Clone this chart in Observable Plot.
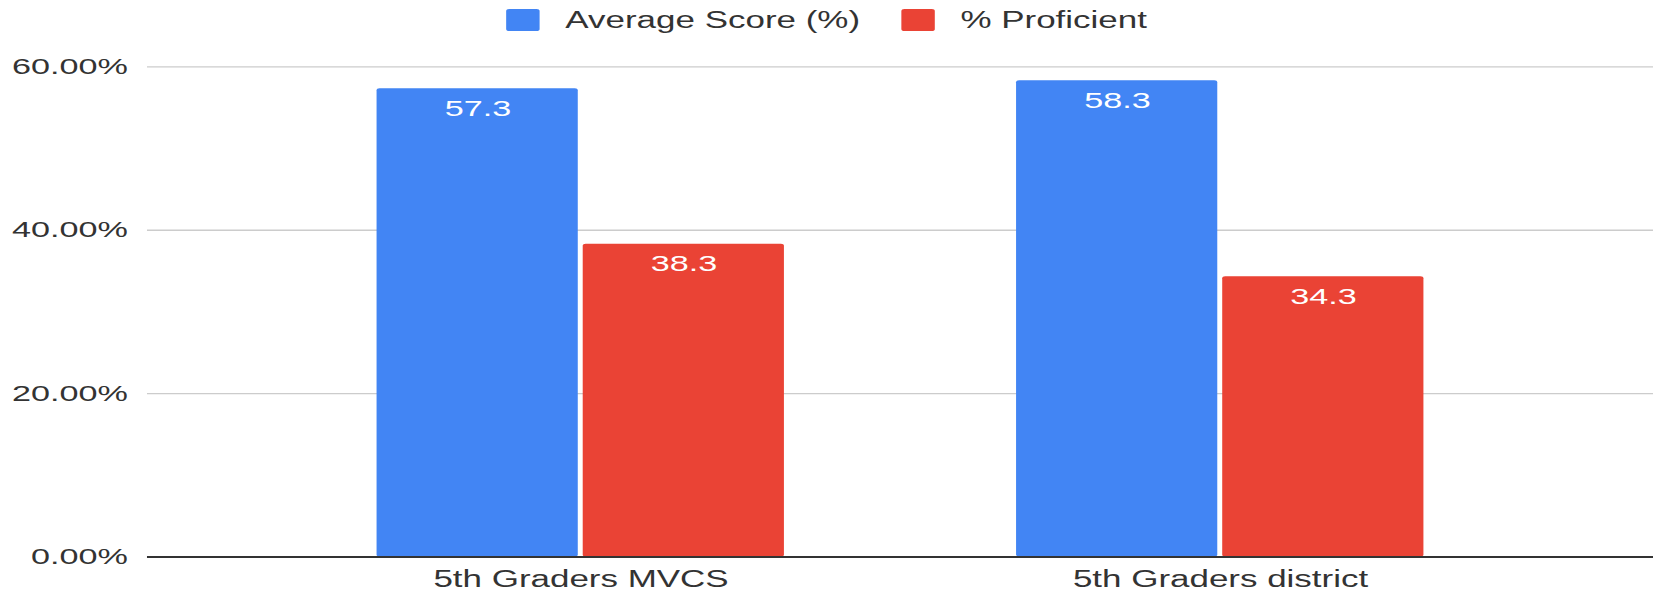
<!DOCTYPE html>
<html>
<head>
<meta charset="utf-8">
<script src="https://cdn.jsdelivr.net/npm/d3@7"></script>
<script src="https://cdn.jsdelivr.net/npm/@observablehq/plot@0.6"></script>
<style>
  html, body { margin: 0; padding: 0; background: #fff; }
  #wrap {
    width: 1087.5px;
    transform: scaleX(1.52);
    transform-origin: 0 0;
    font-family: "Liberation Sans", Arial, sans-serif;
  }
  #legend {
    height: 40px;
    display: flex;
    justify-content: center;
    align-items: center;
    font-size: 23px;
    color: #333;
  }
  .item { display: flex; align-items: center; }
  .item + .item { margin-left: 27px; }
  .sw { width: 22px; height: 22px; border-radius: 2px; margin-right: 17px; }
  #chart { position: relative; width: 1087.5px; height: 550px; }
  #chart svg { position: absolute; top: 0; left: 0; }
</style>
</head>
<body>
<div id="wrap">
  <div id="legend"></div>
  <div id="chart"></div>
</div>
<script>
const categories = ["5th Graders MVCS", "5th Graders district"];
const series = ["Average Score (%)", "% Proficient"];
const averageScore = [57.3, 58.3];
const proficient = [38.3, 34.3];
const yTicks = [0, 20, 40, 60];
const colors = ["#4285F4", "#EA4335"];

const data = [];
categories.forEach((c, i) => {
  data.push({category: c, series: series[0], value: averageScore[i]});
  data.push({category: c, series: series[1], value: proficient[i]});
});

const legend = document.getElementById("legend");
series.forEach((s, i) => {
  const item = document.createElement("div");
  item.className = "item";
  const sw = document.createElement("div");
  sw.className = "sw";
  sw.style.background = colors[i];
  const lab = document.createElement("span");
  lab.textContent = s;
  item.appendChild(sw);
  item.appendChild(lab);
  legend.appendChild(item);
});

const common = {
  width: 1087.5,
  height: 550,
  marginLeft: 96.7,
  marginRight: 0,
  marginTop: 26.3,
  marginBottom: 33.4,
  y: {domain: [0, 60], axis: null}
};
const font = "'Liberation Sans', Arial, sans-serif";

// Background layer: grid lines, y tick labels, baseline across the full frame
const back = Plot.plot({
  ...common,
  style: {fontFamily: font, fontSize: "22.5px", color: "#333", background: "white", overflow: "visible"},
  marks: [
    Plot.ruleY(yTicks.slice(1), {stroke: "#cccccc", strokeWidth: 1.3}),
    Plot.text(yTicks, {y: d => d, text: d => d.toFixed(2) + "%", frameAnchor: "left", textAnchor: "end", dx: -13, fill: "#333"}),
    Plot.ruleY([0], {stroke: "#333", strokeWidth: 2})
  ]
});

// Foreground layer: grouped bars faceted by category
const front = Plot.plot({
  ...common,
  style: {fontFamily: font, fontSize: "23px", color: "#333", background: "transparent", overflow: "visible"},
  fx: {domain: categories, paddingInner: 0.363, paddingOuter: 0.359, round: false, axis: "bottom", label: null, tickSize: 0, tickPadding: 14},
  x: {domain: series, paddingInner: 0.024, paddingOuter: 0, round: false, axis: null},
  color: {domain: series, range: colors},
  marks: [
    Plot.barY(data, {fx: "category", x: "series", y: "value", fill: "series", rx: 2}),
    Plot.text(data, {fx: "category", x: "series", y: "value", text: d => d.value.toFixed(1), fill: "white", dy: 20, fontSize: 22.5}),
    Plot.ruleY([0], {stroke: "#333", strokeWidth: 2})
  ]
});

const chartEl = document.getElementById("chart");
chartEl.appendChild(back);
chartEl.appendChild(front);
</script>
</body>
</html>
